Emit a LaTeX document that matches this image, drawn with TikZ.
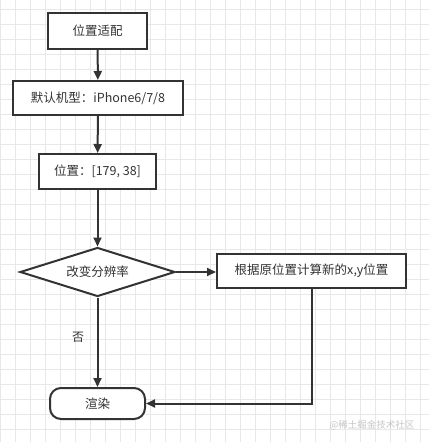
\documentclass[tikz,border=0pt]{standalone}
\usepackage{fontspec}
\newfontfamily\cjk{Noto Sans CJK SC}
\usetikzlibrary{shapes.geometric,arrows.meta}
\definecolor{ink}{HTML}{333333}
\definecolor{gridc}{HTML}{E8E8E8}
\tikzset{
  box/.style={draw=ink, line width=2pt, fill=white, inner sep=0pt, text=ink, font=\cjk\fontsize{12.5}{14}\selectfont},
  dia/.style={diamond, aspect=3.16, draw=ink, line width=2pt, fill=white, inner sep=0pt, text=ink, font=\cjk\fontsize{12.5}{14}\selectfont},
  conn/.style={draw=ink, line width=2pt, -{Triangle[length=9pt,width=8pt]}},
  lbl/.style={text=ink, font=\cjk\fontsize{12}{14}\selectfont}
}
\begin{document}
\begin{tikzpicture}[x=1pt,y=-1pt]
\useasboundingbox (0,0) rectangle (429,442);
\fill[white] (0,0) rectangle (429,442);
\foreach \i in {0,15,...,420} \draw[gridc, line width=0.8pt] (\i,0) -- (\i,442);
\foreach \j in {9,24,...,439} \draw[gridc, line width=0.8pt] (0,\j) -- (429,\j);

\node[box, minimum width=99pt, minimum height=36pt] (b1) at (97.5,31) {位置适配};
\node[box, minimum width=170pt, minimum height=34pt] (b2) at (98,98) {默认机型：iPhone6/7/8};
\node[box, minimum width=117pt, minimum height=35pt] (b3) at (97.5,171.5) {位置：[179, 38]};
\node[dia, minimum width=155pt, minimum height=49pt] (d) at (97.5,272) {改变分辨率};
\node[box, minimum width=189pt, minimum height=34pt] (b4) at (311.5,271) {根据原位置计算新的x,y位置};
\node[box, rounded corners=11pt, minimum width=95pt, minimum height=31pt] (r) at (97.5,403.5) {渲染};

\draw[conn] (b1) -- (b2);
\draw[conn] (b2) -- (b3);
\draw[conn] (b3) -- (d.north);
\draw[conn] (d.east) -- (b4.west |- d.east);
\draw[conn] (d.south) -- node[lbl, pos=0.45, left=9pt] {否} (r.north);
\draw[conn] (b4.south) |- (r.east);

\node[text=gray!45, font=\cjk\fontsize{9.5}{11}\selectfont, anchor=east] (wm) at (418,425) {@稀土掘金技术社区};
\end{tikzpicture}
\end{document}
